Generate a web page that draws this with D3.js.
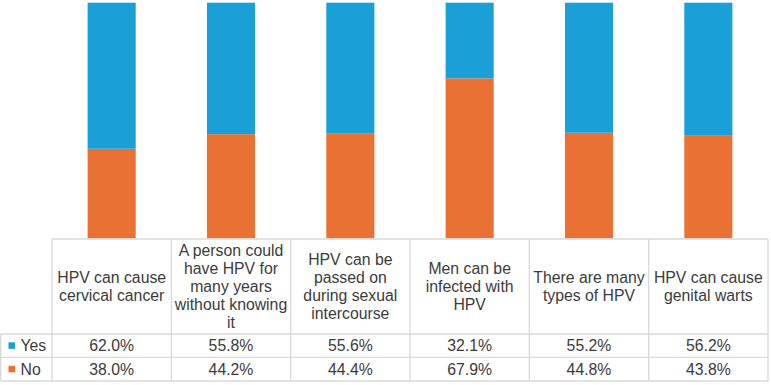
<!DOCTYPE html>
<html>
<head>
<meta charset="utf-8">
<script src="https://cdn.jsdelivr.net/npm/d3@7"></script>
<style>
  body { margin: 0; background: #fff; }
  svg { display: block; font-family: "Liberation Sans", Arial, sans-serif; }
</style>
</head>
<body>
<div id="chart"></div>
<script>
// data
var categories = [
  ["HPV can cause", "cervical cancer"],
  ["A person could", "have HPV for", "many years", "without knowing", "it"],
  ["HPV can be", "passed on", "during sexual", "intercourse"],
  ["Men can be", "infected with", "HPV"],
  ["There are many", "types of HPV"],
  ["HPV can cause", "genital warts"]
];
var yesValues = [62.0, 55.8, 55.6, 32.1, 55.2, 56.2];
var noValues = [38.0, 44.2, 44.4, 67.9, 44.8, 43.8];
var seriesNames = ["Yes", "No"];
var colors = {Yes: "#1a9fd7", No: "#ea7134"};

var width = 771, height = 385;
var plotTop = 2.7, plotBottom = 238.3;
var tableLeft = 52, tableRight = 768;
var headTop = 239, rowYes = 334, rowNo = 357.3, tableBottom = 381;
var fontSize = 15.8, textColor = "#3b3b3b", gridColor = "#d9d9d9";

var svg = d3.select("#chart").append("svg")
    .attr("width", width)
    .attr("height", height);

var ids = categories.map(function(d, i) { return "c" + i; });
var x = d3.scaleBand().domain(ids).range([tableLeft, tableRight]).padding(0);
var y = d3.scaleLinear().domain([0, 100]).range([plotBottom, plotTop]);
var barW = x.bandwidth() * 0.403;

var rows = ids.map(function(id, i) { return {id: id, No: noValues[i], Yes: yesValues[i]}; });
var stack = d3.stack().keys(["No", "Yes"])(rows);

// bars
svg.append("g").selectAll("g")
  .data(stack)
  .enter().append("g")
    .attr("fill", function(d) { return colors[d.key]; })
  .selectAll("rect")
  .data(function(d) { return d; })
  .enter().append("rect")
    .attr("x", function(d) { return x(d.data.id) + (x.bandwidth() - barW) / 2; })
    .attr("y", function(d) { return y(d[1]); })
    .attr("width", barW)
    .attr("height", function(d) { return y(d[0]) - y(d[1]); });

// table grid
var grid = svg.append("g").attr("stroke", gridColor).attr("stroke-width", 1.3);
grid.append("line").attr("x1", tableLeft).attr("x2", tableRight).attr("y1", headTop).attr("y2", headTop);
[rowYes, rowNo, tableBottom].forEach(function(yy) {
  grid.append("line").attr("x1", 0.5).attr("x2", tableRight).attr("y1", yy).attr("y2", yy);
});
grid.append("line").attr("x1", 0.7).attr("x2", 0.7).attr("y1", rowYes).attr("y2", tableBottom);
ids.concat(["end"]).forEach(function(id, i) {
  var xx = i < ids.length ? x(id) : tableRight;
  grid.append("line").attr("x1", xx).attr("x2", xx).attr("y1", headTop).attr("y2", tableBottom);
});

// header text
var lineH = 17.8;
var headMid = (headTop + rowYes) / 2;
categories.forEach(function(lines, i) {
  var cx = x(ids[i]) + x.bandwidth() / 2;
  var t = svg.append("text")
      .attr("text-anchor", "middle")
      .attr("fill", textColor)
      .style("font-size", fontSize + "px");
  var y0 = headMid - (lines.length - 1) * lineH / 2 + fontSize * 0.35;
  lines.forEach(function(l, j) {
    t.append("tspan").attr("x", cx).attr("y", y0 + j * lineH).text(l);
  });
});

// value rows
var rowMids = {Yes: (rowYes + rowNo) / 2, No: (rowNo + tableBottom) / 2};
var vals = {Yes: yesValues, No: noValues};
seriesNames.forEach(function(s) {
  var cy = rowMids[s];
  svg.append("rect")
      .attr("x", 8.5).attr("y", cy - 3.3)
      .attr("width", 6.5).attr("height", 6.5)
      .attr("fill", colors[s]);
  svg.append("text")
      .attr("x", 20.5).attr("y", cy + fontSize * 0.35)
      .attr("fill", textColor)
      .style("font-size", fontSize + "px")
      .text(s);
  vals[s].forEach(function(v, i) {
    svg.append("text")
        .attr("x", x(ids[i]) + x.bandwidth() / 2)
        .attr("y", cy + fontSize * 0.35)
        .attr("text-anchor", "middle")
        .attr("fill", textColor)
        .style("font-size", fontSize + "px")
        .text(v.toFixed(1) + "%");
  });
});
</script>
</body>
</html>
